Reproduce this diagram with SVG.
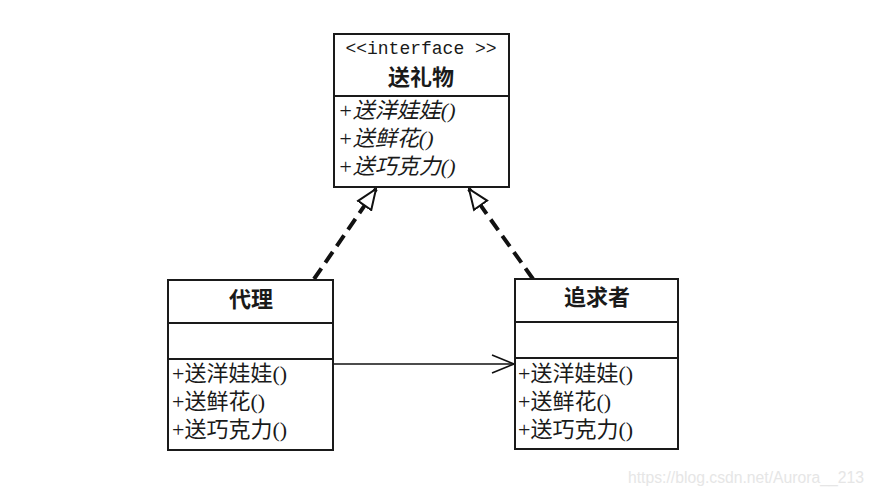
<svg xmlns="http://www.w3.org/2000/svg" width="875" height="491" viewBox="0 0 875 491">
<style>
.box{fill:#fff;stroke:#1a1a1a;stroke-width:2}
.div{stroke:#1a1a1a;stroke-width:2}
.t{font-family:"Liberation Serif","Noto Sans CJK SC",serif;font-size:22px;fill:#1a1a1a}
.m{font-family:"Liberation Mono",monospace;font-size:18px;fill:#1a1a1a}
.b{font-family:"Noto Sans CJK SC",sans-serif;font-size:22px;font-weight:bold;fill:#1a1a1a}
.i{font-style:italic}
.dash{stroke:#111;stroke-width:4;stroke-dasharray:13,7;fill:none}
.wm{font-family:"Liberation Sans",sans-serif;font-size:16px;fill:#e6e6e6}
</style>
<defs>
<marker id="tri" viewBox="0 0 22 20" refX="21" refY="10" markerWidth="22" markerHeight="20" markerUnits="userSpaceOnUse" orient="auto">
<path d="M1,2 L21,10 L1,18 Z" fill="#fff" stroke="#111" stroke-width="2"/>
</marker>
<marker id="open" viewBox="0 0 24 20" refX="23" refY="10" markerWidth="24" markerHeight="20" markerUnits="userSpaceOnUse" orient="auto">
<path d="M1,1 L23,10 L1,19" fill="none" stroke="#111" stroke-width="1.6"/>
</marker>
</defs>
<rect width="875" height="491" fill="#fff"/>
<g id="connectors">
<line class="dash" x1="314" y1="279" x2="376" y2="189" marker-end="url(#tri)"/>
<line class="dash" x1="533" y1="279" x2="469" y2="189" marker-end="url(#tri)"/>
<line x1="333" y1="364" x2="514" y2="364" stroke="#111" stroke-width="1.6" marker-end="url(#open)"/>
</g>
<g id="iface">
<rect class="box" x="334" y="34" width="175" height="153"/>
<line class="div" x1="334" y1="96" x2="509" y2="96"/>
<text class="m" x="421" y="54" text-anchor="middle">&lt;&lt;interface &gt;&gt;</text>
<text class="b" x="421" y="85" text-anchor="middle">送礼物</text>
<text class="t i" x="338" y="118">+送洋娃娃()</text>
<text class="t i" x="338" y="146">+送鲜花()</text>
<text class="t i" x="338" y="174">+送巧克力()</text>
</g>
<g id="proxy">
<rect class="box" x="168" y="280" width="165" height="170"/>
<line class="div" x1="168" y1="323" x2="333" y2="323"/>
<line class="div" x1="168" y1="359" x2="333" y2="359"/>
<text class="b" x="251" y="307" text-anchor="middle">代理</text>
<text class="t" x="172" y="381">+送洋娃娃()</text>
<text class="t" x="172" y="409">+送鲜花()</text>
<text class="t" x="172" y="437">+送巧克力()</text>
</g>
<g id="suitor">
<rect class="box" x="515" y="279" width="163" height="170"/>
<line class="div" x1="515" y1="322" x2="678" y2="322"/>
<line class="div" x1="515" y1="358" x2="678" y2="358"/>
<text class="b" x="597" y="305" text-anchor="middle">追求者</text>
<text class="t" x="518" y="381">+送洋娃娃()</text>
<text class="t" x="518" y="409">+送鲜花()</text>
<text class="t" x="518" y="437">+送巧克力()</text>
</g>
<text class="wm" x="628" y="483" textLength="236" lengthAdjust="spacingAndGlyphs">https://blog.csdn.net/Aurora__213</text>
</svg>
